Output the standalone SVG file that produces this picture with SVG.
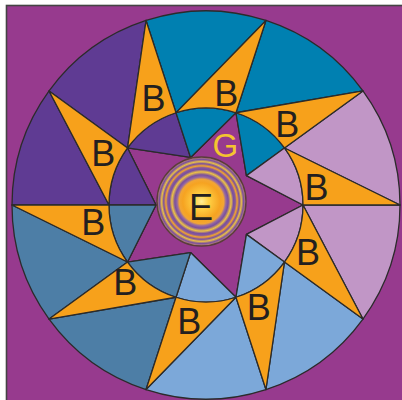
<svg xmlns="http://www.w3.org/2000/svg" width="402" height="400" viewBox="0 0 402 400">
<defs>
<radialGradient id="eg" cx="0.5" cy="0.5" r="0.5">
<stop offset="0" stop-color="#FFEE96"/>
<stop offset="0.16" stop-color="#FFD044"/>
<stop offset="0.42" stop-color="#F6A321"/>
<stop offset="0.5" stop-color="#F2A634"/>
<stop offset="0.55" stop-color="#9468A2"/>
<stop offset="0.6" stop-color="#7A4F9E"/>
<stop offset="0.665" stop-color="#EDC245"/>
<stop offset="0.72" stop-color="#7A4F9E"/>
<stop offset="0.76" stop-color="#86589C"/>
<stop offset="0.8" stop-color="#F2A42E"/>
<stop offset="0.85" stop-color="#7A4F9E"/>
<stop offset="0.895" stop-color="#E9C046"/>
<stop offset="0.945" stop-color="#7A4F9E"/>
<stop offset="1" stop-color="#C98F6E"/>
</radialGradient>
<style>
.s{stroke:#2b2b2b;stroke-width:1.3;stroke-linejoin:round}
.dp{fill:#5F3B93}.tl{fill:#0080B1}.pk{fill:#C196C6}.lb{fill:#7CA8D9}.sb{fill:#4D7EA6}.or{fill:#F7A11B}.bg{fill:#973A8E}
.t{font-family:"Liberation Sans",Arial,sans-serif;font-size:36px;fill:#231F20;text-anchor:middle}
</style>
</defs>
<rect x="0" y="0" width="402" height="400" fill="#ffffff"/>
<rect x="6.5" y="5.5" width="402" height="402" fill="#973A8E" stroke="#444" stroke-width="1.6"/>
<g id="outer-ring">
<path class="s dp" d="M12 205 L109 205 L49.05 90.97 A194 194 0 0 0 12 205 Z"/>
<path class="s dp" d="M49.05 90.97 L127.53 147.98 L146.05 20.49 A194 194 0 0 0 49.05 90.97 Z"/>
<path class="s tl" d="M146.05 20.49 L176.03 112.75 L265.95 20.49 A194 194 0 0 0 146.05 20.49 Z"/>
<path class="s tl" d="M265.95 20.49 L235.97 112.75 L362.95 90.97 A194 194 0 0 0 265.95 20.49 Z"/>
<path class="s pk" d="M362.95 90.97 L284.47 147.98 L400 205 A194 194 0 0 0 362.95 90.97 Z"/>
<path class="s pk" d="M400 205 L303 205 L362.95 319.03 A194 194 0 0 0 400 205 Z"/>
<path class="s lb" d="M362.95 319.03 L284.47 262.02 L265.95 389.51 A194 194 0 0 0 362.95 319.03 Z"/>
<path class="s lb" d="M265.95 389.51 L235.97 297.25 L146.05 389.51 A194 194 0 0 0 265.95 389.51 Z"/>
<path class="s sb" d="M146.05 389.51 L176.03 297.25 L49.05 319.03 A194 194 0 0 0 146.05 389.51 Z"/>
<path class="s sb" d="M49.05 319.03 L127.53 262.02 L12 205 A194 194 0 0 0 49.05 319.03 Z"/>
</g>
<g id="inner-ring">
<path class="s bg" d="M127.53 147.98 L190.55 157.45 L235.97 112.75 L246.45 175.61 L303 205 L246.45 234.39 L235.97 297.25 L190.55 252.55 L127.53 262.02 L156 205 Z"/>
<path class="s dp" d="M156 205 L109 205 A97 97 0 0 1 127.53 147.98 Z"/>
<path class="s dp" d="M190.55 157.45 L127.53 147.98 A97 97 0 0 1 176.03 112.75 Z"/>
<path class="s tl" d="M190.55 157.45 L176.03 112.75 A97 97 0 0 1 235.97 112.75 Z"/>
<path class="s tl" d="M246.45 175.61 L235.97 112.75 A97 97 0 0 1 284.47 147.98 Z"/>
<path class="s pk" d="M246.45 175.61 L284.47 147.98 A97 97 0 0 1 303 205 Z"/>
<path class="s pk" d="M246.45 234.39 L303 205 A97 97 0 0 1 284.47 262.02 Z"/>
<path class="s lb" d="M246.45 234.39 L284.47 262.02 A97 97 0 0 1 235.97 297.25 Z"/>
<path class="s lb" d="M190.55 252.55 L235.97 297.25 A97 97 0 0 1 176.03 297.25 Z"/>
<path class="s sb" d="M190.55 252.55 L176.03 297.25 A97 97 0 0 1 127.53 262.02 Z"/>
<path class="s sb" d="M156 205 L127.53 262.02 A97 97 0 0 1 109 205 Z"/>
</g>
<g id="b1"><path class="s or" d="M146.05 20.49 L176.03 112.75 A97 97 0 0 0 127.53 147.98 Z"/><text class="t" x="153.5" y="111.2">B</text></g>
<g id="b2"><path class="s or" d="M49.05 90.97 L127.53 147.98 A97 97 0 0 0 109 205 Z"/><text class="t" x="103.3" y="165.7">B</text></g>
<g id="b3"><path class="s or" d="M12 205 L109 205 A97 97 0 0 0 127.53 262.02 Z"/><text class="t" x="93.2" y="234.6">B</text></g>
<g id="b4"><path class="s or" d="M49.05 319.03 L127.53 262.02 A97 97 0 0 0 176.03 297.25 Z"/><text class="t" x="125.2" y="294.6">B</text></g>
<g id="b5"><path class="s or" d="M146.05 389.51 L176.03 297.25 A97 97 0 0 0 235.97 297.25 Z"/><text class="t" x="189.2" y="333.7">B</text></g>
<g id="b6"><path class="s or" d="M265.95 389.51 L235.97 297.25 A97 97 0 0 0 284.47 262.02 Z"/><text class="t" x="258.8" y="320.4">B</text></g>
<g id="b7"><path class="s or" d="M362.95 319.03 L284.47 262.02 A97 97 0 0 0 303 205 Z"/><text class="t" x="308" y="265.4">B</text></g>
<g id="b8"><path class="s or" d="M400 205 L303 205 A97 97 0 0 0 284.47 147.98 Z"/><text class="t" x="316.5" y="199.9">B</text></g>
<g id="b9"><path class="s or" d="M362.95 90.97 L284.47 147.98 A97 97 0 0 0 235.97 112.75 Z"/><text class="t" x="287.3" y="137.1">B</text></g>
<g id="b10"><path class="s or" d="M265.95 20.49 L235.97 112.75 A97 97 0 0 0 176.03 112.75 Z"/><text class="t" x="226.3" y="105.5">B</text></g>
<g id="g"><text x="225.3" y="157.2" font-family="'Liberation Sans',Arial,sans-serif" font-size="33" fill="#F4C430" text-anchor="middle">G</text></g>
<g id="e"><circle cx="201.5" cy="201.5" r="44.5" fill="url(#eg)" stroke="#5a3d3a" stroke-width="1.4"/><text class="t" x="201" y="219.6">E</text></g>
</svg>
